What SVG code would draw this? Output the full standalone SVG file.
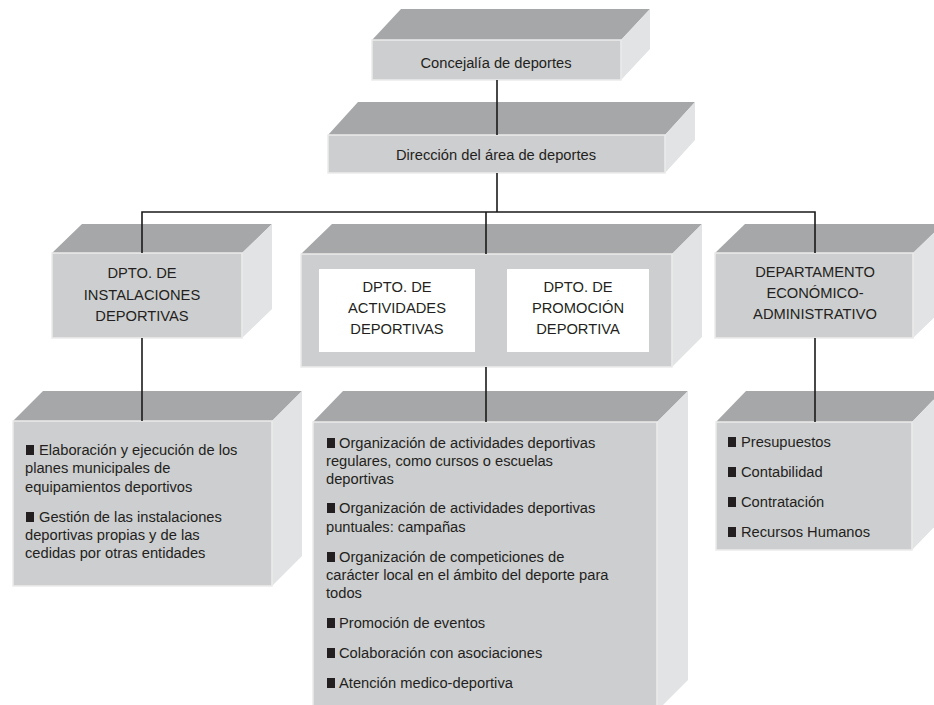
<svg xmlns="http://www.w3.org/2000/svg" width="934" height="705" viewBox="0 0 934 705">
<style>
.top{fill:#a6a7a9}
.side{fill:#e2e3e4}
.front{fill:#cdcecf;stroke:#ececec;stroke-width:1.5}
.inner{fill:#ffffff}
.t{font-family:"Liberation Sans",Arial,sans-serif;font-size:14.7px;fill:#231f20}
.c{text-anchor:middle}
.b{fill:#231f20}
.conn{stroke:#1a1a1a;stroke-width:1.6;fill:none}
</style>
<rect width="934" height="705" fill="#ffffff"/>

<g id="concejalia">
<polygon class="top" points="372,40 401,9 650,9 621,40"/>
<polygon class="side" points="621,40 650,9 650,49 621,80"/>
<rect class="front" x="372" y="40" width="249" height="40"/>
<text class="t c" x="496" y="68">Concejalía de deportes</text>
</g>

<g id="direccion">
<polygon class="top" points="328,135 358,102 695,102 665,135"/>
<polygon class="side" points="665,135 695,102 695,140 665,173"/>
<rect class="front" x="328" y="135" width="337" height="38"/>
<text class="t c" x="496" y="160">Dirección del área de deportes</text>
</g>

<g id="instalaciones">
<polygon class="top" points="52,253 82,224 272,224 242,253"/>
<polygon class="side" points="242,253 272,224 272,309 242,338"/>
<rect class="front" x="52" y="253" width="190" height="85"/>
<text class="t c" x="142" y="278">DPTO. DE</text>
<text class="t c" x="142" y="300">INSTALACIONES</text>
<text class="t c" x="142" y="321">DEPORTIVAS</text>
</g>

<g id="actividades-promocion">
<polygon class="top" points="301,254 332,224 702,224 672,254"/>
<polygon class="side" points="672,254 702,224 702,337 672,367"/>
<rect class="front" x="301" y="254" width="371" height="113"/>
<rect class="inner" x="319" y="269" width="156" height="83"/>
<rect class="inner" x="507" y="269" width="142" height="83"/>
<text class="t c" x="397" y="292">DPTO. DE</text>
<text class="t c" x="397" y="313">ACTIVIDADES</text>
<text class="t c" x="397" y="334">DEPORTIVAS</text>
<text class="t c" x="578" y="292">DPTO. DE</text>
<text class="t c" x="578" y="313">PROMOCIÓN</text>
<text class="t c" x="578" y="334">DEPORTIVA</text>
</g>

<g id="economico">
<polygon class="top" points="715,253 745,224 943,224 913,253"/>
<polygon class="side" points="913,253 943,224 943,309 913,338"/>
<rect class="front" x="715" y="253" width="198" height="85"/>
<text class="t c" x="815" y="277">DEPARTAMENTO</text>
<text class="t c" x="815" y="298">ECONÓMICO-</text>
<text class="t c" x="815" y="319">ADMINISTRATIVO</text>
</g>

<g id="funciones-instalaciones">
<polygon class="top" points="13,421 43,391 302,391 272,421"/>
<polygon class="side" points="272,421 302,391 302,556 272,586"/>
<rect class="front" x="13" y="421" width="259" height="165"/>
<rect class="b" x="26" y="445" width="8" height="10"/>
<text class="t" x="39" y="455">Elaboración y ejecución de los</text>
<text class="t" x="25" y="473">planes municipales de</text>
<text class="t" x="25" y="492">equipamientos deportivos</text>
<rect class="b" x="26" y="512" width="8" height="10"/>
<text class="t" x="39" y="522">Gestión de las instalaciones</text>
<text class="t" x="25" y="540">deportivas propias y de las</text>
<text class="t" x="25" y="558">cedidas por otras entidades</text>
</g>

<g id="funciones-actividades">
<polygon class="top" points="313,422 343,391 688,391 657,422"/>
<polygon class="side" points="657,422 688,391 688,680 657,711"/>
<rect class="front" x="313" y="422" width="344" height="290"/>
<rect class="b" x="327" y="438" width="8" height="10"/>
<text class="t" x="339" y="448">Organización de actividades deportivas</text>
<text class="t" x="326" y="466">regulares, como cursos o escuelas</text>
<text class="t" x="326" y="484">deportivas</text>
<rect class="b" x="327" y="503" width="8" height="10"/>
<text class="t" x="339" y="513">Organización de actividades deportivas</text>
<text class="t" x="326" y="532">puntuales: campañas</text>
<rect class="b" x="327" y="552" width="8" height="10"/>
<text class="t" x="339" y="562">Organización de competiciones de</text>
<text class="t" x="326" y="580">carácter local en el ámbito del deporte para</text>
<text class="t" x="326" y="598">todos</text>
<rect class="b" x="327" y="618" width="8" height="10"/>
<text class="t" x="339" y="628">Promoción de eventos</text>
<rect class="b" x="327" y="648" width="8" height="10"/>
<text class="t" x="339" y="658">Colaboración con asociaciones</text>
<rect class="b" x="327" y="678" width="8" height="10"/>
<text class="t" x="339" y="688">Atención medico-deportiva</text>
</g>

<g id="funciones-economico">
<polygon class="top" points="716,422 746,391 942,391 912,422"/>
<polygon class="side" points="912,422 942,391 942,519 912,550"/>
<rect class="front" x="716" y="422" width="196" height="128"/>
<rect class="b" x="728" y="437" width="8" height="10"/>
<text class="t" x="741" y="447">Presupuestos</text>
<rect class="b" x="728" y="467" width="8" height="10"/>
<text class="t" x="741" y="477">Contabilidad</text>
<rect class="b" x="728" y="497" width="8" height="10"/>
<text class="t" x="741" y="507">Contratación</text>
<rect class="b" x="728" y="527" width="8" height="10"/>
<text class="t" x="741" y="537">Recursos Humanos</text>
</g>

<g id="connectors">
<line class="conn" x1="497" y1="80" x2="497" y2="135"/>
<line class="conn" x1="497" y1="173" x2="497" y2="212"/>
<polyline class="conn" points="142,253 142,212 815,212 815,253"/>
<line class="conn" x1="486" y1="212" x2="486" y2="254"/>
<line class="conn" x1="142" y1="338" x2="142" y2="421"/>
<line class="conn" x1="486" y1="367" x2="486" y2="422"/>
<line class="conn" x1="815" y1="338" x2="815" y2="422"/>
</g>
</svg>
